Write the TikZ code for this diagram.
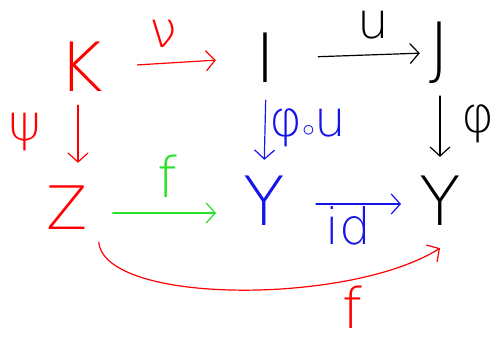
\documentclass[tikz,border=0pt]{standalone}
\usepackage{fontspec}
\setmainfont{DejaVu Sans ExtraLight}
\usetikzlibrary{arrows.meta, positioning}
\definecolor{penred}{RGB}{255,0,0}
\definecolor{penblue}{RGB}{20,20,235}
\definecolor{pengreen}{RGB}{40,225,40}
\tikzset{
  obj/.style={font=\fontsize{68}{68}\selectfont, inner sep=0pt,
    minimum width=30pt, minimum height=56pt},
  lbl/.style={font=\fontsize{50}{50}\selectfont, inner sep=0pt},
  biglbl/.style={font=\fontsize{56}{56}\selectfont, inner sep=0pt},
  arr/.style={line width=1.2pt, line cap=round,
    -{Straight Barb[length=9pt,width=20pt,line width=1.2pt]}}
}
\begin{document}
\begin{tikzpicture}[x=1pt, y=-1pt]
    \useasboundingbox (0,0) rectangle (499,344);
    % objects of the diagram
    \node [obj, penred] (K) at (81,67) {K};
    \node [obj] (I) at (266,58) {I};
    \node [obj] (J) at (440,53) {J};
    \node [obj, penred, font=\fontsize{60}{60}\selectfont] (Z) at (67,208) {Z};
    \node [obj, penblue] (Yb) at (264,201) {Y};
    \node [obj] (Yk) at (440,201) {Y};

    % labels of the maps
    \node [lbl, penred] (nu) at (163,34) {ν};
    \node [lbl] (u) at (373,25) {u};
    \node [lbl, penred] (psi) at (25,132) {ψ};
    \node [lbl, penblue] (phiu) at (308,128) {φ$\circ$u};
    \node [lbl] (phi) at (478,124) {φ};
    \node [biglbl, pengreen] (fg) at (167,176) {f};
    \node [lbl, penblue] (id) at (348,226) {id};
    \node [biglbl, penred] (fr) at (352,307) {f};

    % maps
    \draw [arr, penred, shorten <=34pt, shorten >=35pt] (K.east) -- (I.west);
    \draw [arr, shorten <=37pt, shorten >=5pt] (I.east) -- (J.west);
    \draw [arr, penred, shorten <=10pt, shorten >=17pt]
        ([xshift=-3pt]K.south) -- ([xshift=-3pt]K.south |- Z.north);
    \draw [arr, penblue, shorten <=14pt, shorten >=13pt] (I.south) -- (Yb.north);
    \draw [arr, shorten <=12pt, shorten >=16pt] (J.south) -- (Yk.north);
    \draw [arr, pengreen, shorten <=25pt, shorten >=27pt]
        ([yshift=-5pt]Z.east) -- ([yshift=-5pt]Z.east -| Yb.west);
    \draw [arr, penblue, shorten <=31pt, shorten >=18pt]
        ([yshift=-3pt]Yb.east) -- ([yshift=-3pt]Yk.west);
    \draw [arr, penred] ([xshift=11pt, yshift=-6pt]Z.south east)
        .. controls (105,305) and (350,305) .. ([yshift=-19pt]Yk.south);
\end{tikzpicture}
\end{document}
